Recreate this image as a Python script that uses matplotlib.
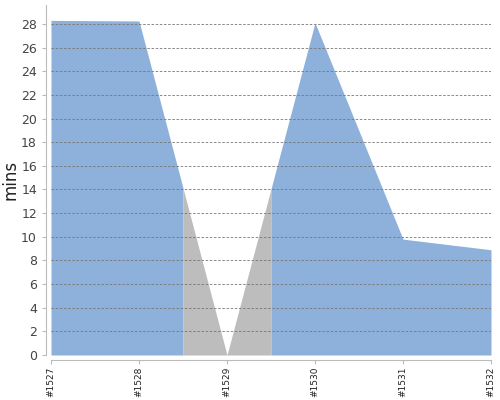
import numpy as np
import matplotlib
matplotlib.use("Agg")
import matplotlib.pyplot as plt

# build durations (minutes), one per build
builds = ["#1527", "#1528", "#1529", "#1530", "#1531", "#1532"]
durations = [28.3, 28.25, 0.0, 28.1, 9.8, 8.9]
status = ["ok", "ok", "failed", "ok", "ok", "ok"]
yticks = list(range(0, 30, 2))

colors = {"ok": "#8db1db", "failed": "#bdbdbd"}

fig = plt.figure(figsize=(5, 4), dpi=100)
ax = fig.add_axes([0.102, 0.1125, 0.88, 0.875])

# spines first: moving them resets the tick labels
for s in ["top", "right"]:
    ax.spines[s].set_visible(False)
for s in ["left", "bottom"]:
    ax.spines[s].set_color("#bbbbbb")
    ax.spines[s].set_position(("outward", 3.6))

x = np.arange(len(builds))
y = np.array(durations)
n = len(builds)

# group neighbouring builds with the same status, each strip
# runs half way to the neighbouring build
groups = []
for i in range(n):
    if groups and groups[-1][0] == status[i]:
        groups[-1][1].append(i)
    else:
        groups.append((status[i], [i]))

for st, idx in groups:
    lo = max(idx[0] - 0.5, 0)
    hi = min(idx[-1] + 0.5, n - 1)
    xs = sorted(set([lo, hi] + [float(i) for i in idx]))
    ys = np.interp(xs, x, y)
    ax.fill_between(xs, 0, ys, color=colors[st], lw=0, zorder=1)

ax.set_xlim(0, n - 1)
ax.set_ylim(0, 29.6)
ax.set_xticks(x)
ax.set_xticklabels(builds, rotation=90, fontsize=6.5, color="#222222")
ax.set_yticks(yticks)
ax.tick_params(axis="y", labelsize=9, labelcolor="#444444", length=3, color="#bbbbbb")
ax.tick_params(axis="x", length=3, pad=1.5, color="#bbbbbb")

ax.grid(axis="y", ls=(0, (3, 2)), color="#777777", lw=0.6, zorder=2)
ax.set_axisbelow(False)

ax.set_ylabel("mins", fontsize=12, color="#222222")
ax.yaxis.set_label_coords(-0.072, 0.5)

fig.savefig("out.png", dpi=100)
